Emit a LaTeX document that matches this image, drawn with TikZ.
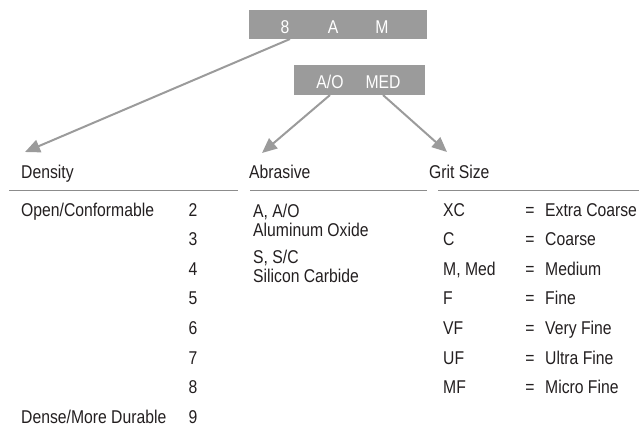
\documentclass[tikz,border=0pt]{standalone}
\usepackage{fontspec}
\setmainfont[FakeStretch=0.85]{Liberation Sans}
\usetikzlibrary{arrows.meta}
\definecolor{boxgray}{HTML}{9B9B9B}
\definecolor{txt}{HTML}{231F20}
\definecolor{rulegray}{HTML}{8C8C8C}
\begin{document}
\begin{tikzpicture}[x=1pt,y=-1pt,
  lbl/.style={anchor=base west, inner sep=0pt, text=txt, font=\fontsize{18.5}{22}\selectfont},
  num/.style={anchor=base, inner sep=0pt, text=txt, font=\fontsize{18.5}{22}\selectfont},
  wlbl/.style={anchor=base, inner sep=0pt, text=white, font=\fontsize{18.5}{22}\selectfont},
  codebox/.style={fill=boxgray, draw=none, inner sep=0pt, anchor=north west},
  conn/.style={draw=boxgray, line width=2pt, -{Triangle[length=15pt,width=13pt]}},
  hrule/.style={draw=rulegray, line width=0.8pt}]
\useasboundingbox (0,0) rectangle (639,432);
% code boxes
\node[codebox, minimum width=178pt, minimum height=29pt] (b1) at (249,10) {};
\node[wlbl] (c8) at (285,33) {8};
\node[wlbl] (cA) at (333,33) {A};
\node[wlbl] (cM) at (382,33) {M};
\node[codebox, minimum width=131pt, minimum height=30pt] (b2) at (294,65) {};
\node[wlbl] (cAO) at (330,88) {A/O};
\node[wlbl] (cMED) at (383,88) {MED};
% connectors
\coordinate (s1) at (290,39);
\coordinate (t1) at (25,152);
\coordinate (s2) at (330,95);
\coordinate (t2) at (262,153);
\coordinate (s3) at (383,95);
\coordinate (t3) at (447,152);
\draw[conn] (s1) -- (t1);
\draw[conn] (s2) -- (t2);
\draw[conn] (s3) -- (t3);
% headings
\node[lbl] (hD) at (21,178) {Density};
\node[lbl] (hA) at (249,178) {Abrasive};
\node[lbl] (hG) at (429,178) {Grit Size};
\draw[hrule] (9,190) -- (238,190);
\draw[hrule] (250,190) -- (427,190);
\draw[hrule] (438,190) -- (639,190);
% density
\node[lbl] (dOpen) at (21,216) {Open/Conformable};
\node[lbl] (dDense) at (21,423) {Dense/More Durable};
\foreach \n [count=\i from 0] in {2,3,4,5,6,7,8,9}
  \node[num] (d\n) at (193,216+29.6*\i) {\n};
% abrasive
\node[lbl] (a1) at (253,217) {A, A/O};
\node[lbl] (a2) at (253,236) {Aluminum Oxide};
\node[lbl] (a3) at (253,263) {S, S/C};
\node[lbl] (a4) at (253,282) {Silicon Carbide};
% grit
\foreach \c/\d [count=\i from 0] in {XC/Extra Coarse,C/Coarse,{M, Med}/Medium,F/Fine,VF/Very Fine,UF/Ultra Fine,MF/Micro Fine}{
  \node[lbl] (g\i) at (443,216+29.6*\i) {\c};
  \node[num] (e\i) at (530,216+29.6*\i) {=};
  \node[lbl] (gd\i) at (545,216+29.6*\i) {\d};
}
\end{tikzpicture}
\end{document}
